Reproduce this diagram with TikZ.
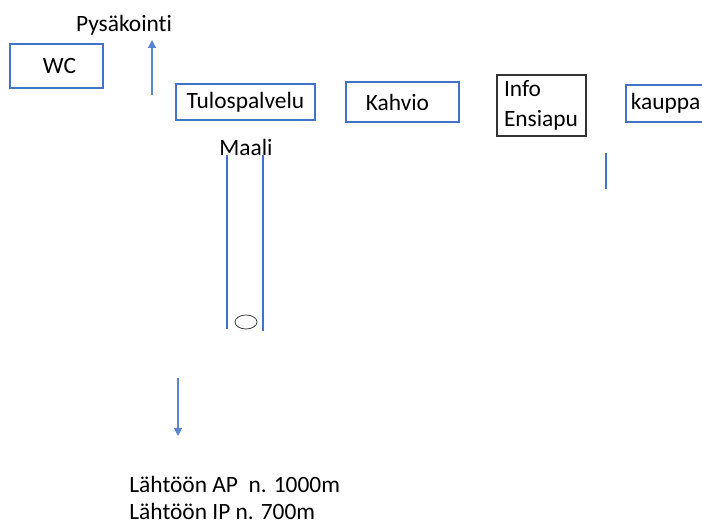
\documentclass[tikz,border=0pt]{standalone}
\usepackage{fontspec}
\setmainfont{Carlito}[Ligatures=NoCommon]
\usetikzlibrary{arrows.meta,shapes.geometric}

\definecolor{boxblue}{RGB}{68,114,196}
\definecolor{arrowblue}{RGB}{91,134,206}
\tikzset{
  paikka/.style={draw=boxblue, thick, inner sep=0pt},
  teksti/.style={inner sep=0pt, font=\fontsize{11.7}{15}\selectfont},
  nuoli/.style={draw=arrowblue, line width=0.6pt, -{Triangle[width=4pt,length=4pt]}},
  rata/.style={draw=boxblue, line width=0.6pt}
}

\begin{document}
\begin{tikzpicture}[x=0.5pt,y=-0.5pt,every node/.style={font=\fontsize{11.7}{15}\selectfont}]
\clip (0,0) rectangle (702,523);
\fill[white] (0,0) rectangle (702,523);
% edit here for the boxes
\node[paikka, minimum width=46.5pt, minimum height=22pt] (wc) at (56.5,66) {\hspace*{3pt}WC};
\node[paikka, minimum width=69.5pt, minimum height=18pt] (tulos) at (245.5,102) {Tulospalvelu};
\node[paikka, minimum width=56.5pt, minimum height=20pt] (kahvio) at (402.5,102) {Kahvio\hspace*{5pt}};
\node[draw=black!80, thick, inner ysep=0pt, inner xsep=3.5pt, text width=37.5pt, align=left, minimum height=30.5pt] (info) at (541.5,105.5) {Info\\Ensiapu};
\node[paikka, anchor=west, inner xsep=2.5pt, text width=40pt, align=left, minimum height=18.5pt] (kauppa) at (625,103.5) {kauppa};
% texts
\node[teksti] (pysakointi) at (124,25) {Pysäkointi};
\node[teksti] (maali) at (246,147) {Maali};
\node[teksti, anchor=west, align=left] (lahto) at (129,498) {Lähtöön AP\ \ n. 1000m\\[-1.5pt]Lähtöön IP n. 700m};
% arrows
\coordinate (ylos) at (152,95);
\coordinate (alas) at (178,378);
\draw[nuoli] (ylos) -- (152,40);
\draw[nuoli] (alas) -- (178,436);
% edit here for the track
\draw[rata] (227,155) -- (227,329);
\draw[rata] (263,155) -- (263,331);
\node[draw=black!75, ellipse, minimum width=11pt, minimum height=7pt, inner sep=0pt] (pallo) at (246,322) {};
\draw[rata] (606,153) -- (606,189);
\end{tikzpicture}
\end{document}
